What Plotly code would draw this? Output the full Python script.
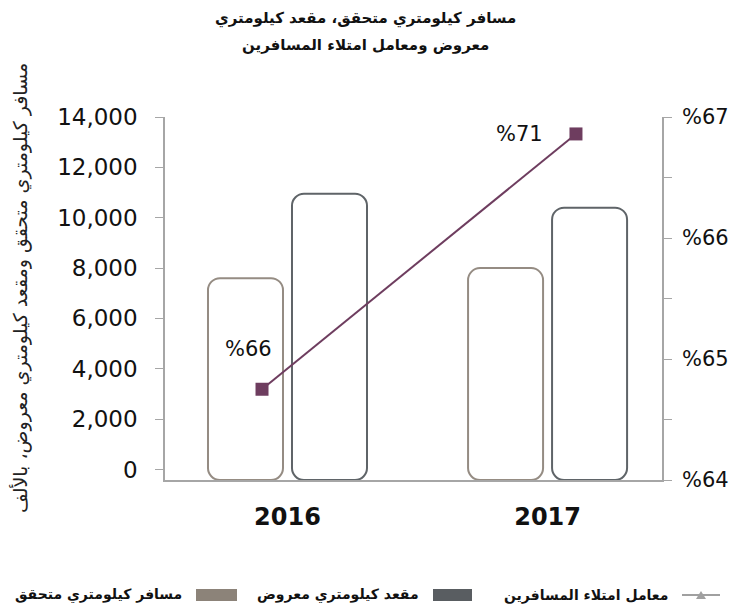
import plotly.graph_objects as go

# ---------------- data ----------------
years = ["2016", "2017"]
rpk_achieved = [7600, 8000]          # مسافر كيلومتري متحقق
ask_offered = [10950, 10400]         # مقعد كيلومتري معروض
load_factor = [64.75, 66.86]         # معامل امتلاء المسافرين (plotted position)
load_factor_labels = ["%66", "%71"]
left_ticks = [0, 2000, 4000, 6000, 8000, 10000, 12000, 14000]
left_ticktext = ["0", "2,000", "4,000", "6,000", "8,000", "10,000", "12,000", "14,000"]
right_ticks = [64, 65, 66, 67]
right_ticktext = ["%64", "%65", "%66", "%67"]

series_names = ["مسافر كيلومتري متحقق", "مقعد كيلومتري معروض", "معامل امتلاء المسافرين"]
title_lines = ["مسافر كيلومتري متحقق، مقعد كيلومتري", "معروض ومعامل امتلاء المسافرين"]
y_title = "مسافر كيلومتري متحقق ومقعد كيلومتري معروض، بالألف"

# ---------------- style ----------------
W, H = 731, 610
L, R, T, B = 165, 69, 117, 130
PW, PH = W - L - R, H - T - B
Y_MIN, Y_MAX = -417, 14000

C_RPK = "#958c83"
C_ASK = "#5f6468"
C_RPK_LEG = "#8c8379"
C_ASK_LEG = "#595d61"
C_LINE = "#6e3d5f"
C_AXIS = "#a6a6a6"
FONT = "DejaVu Sans"


def px(x):
    return (x - L) / PW


def py(y):
    return (H - B - y) / PH


fig = go.Figure()

fig.add_trace(go.Bar(
    x=years, y=[v - Y_MIN for v in rpk_achieved], base=Y_MIN,
    name=series_names[0], marker=dict(color="white", line=dict(color=C_RPK, width=2)),
    showlegend=False,
))
fig.add_trace(go.Bar(
    x=years, y=[v - Y_MIN for v in ask_offered], base=Y_MIN,
    name=series_names[1], marker=dict(color="white", line=dict(color=C_ASK, width=2)),
    showlegend=False,
))
fig.add_trace(go.Scatter(
    x=years, y=load_factor, xaxis="x2", yaxis="y2", mode="lines+markers",
    name=series_names[2], line=dict(color=C_LINE, width=2),
    marker=dict(symbol="square", size=13, color=C_LINE), showlegend=False,
))

annotations = []
shifts = [(-14, 40), (-56, 0)]
for i, (v, t) in enumerate(zip(load_factor, load_factor_labels)):
    annotations.append(dict(x=i, y=v, xref="x2", yref="y2", text=t, showarrow=False,
                            xshift=shifts[i][0], yshift=shifts[i][1],
                            xanchor="center", yanchor="middle",
                            font=dict(family=FONT, size=21, color="#111")))

# title
annotations.append(dict(x=px(365), y=py(18), xref="paper", yref="paper", text=title_lines[0],
                        showarrow=False, xanchor="center", yanchor="middle",
                        font=dict(family=FONT, size=15, color="#111", weight="bold")))
annotations.append(dict(x=px(365), y=py(45), xref="paper", yref="paper", text=title_lines[1],
                        showarrow=False, xanchor="center", yanchor="middle",
                        font=dict(family=FONT, size=15, color="#111", weight="bold")))
# y title
annotations.append(dict(x=px(20), y=py(288), xref="paper", yref="paper", text=y_title,
                        showarrow=False, textangle=-90, xanchor="center", yanchor="middle",
                        font=dict(family=FONT, size=19, color="#222")))

# manual RTL legend
shapes = []
LY = 595
shapes.append(dict(type="line", xref="paper", yref="paper", x0=px(682), x1=px(720),
                   y0=py(LY), y1=py(LY), line=dict(color="#a0a0a0", width=2)))
shapes.append(dict(type="path", xref="paper", yref="paper",
                   path=f"M {px(696)} {py(599)} L {px(706)} {py(599)} L {px(701)} {py(591)} Z",
                   fillcolor="#a0a0a0", line=dict(width=0)))
annotations.append(dict(x=px(670), y=py(LY), xref="paper", yref="paper", text=series_names[2],
                        showarrow=False, xanchor="right", yanchor="middle",
                        font=dict(family=FONT, size=14, color="#111", weight="bold")))
shapes.append(dict(type="rect", xref="paper", yref="paper", x0=px(433), x1=px(472),
                   y0=py(601), y1=py(589), fillcolor=C_ASK_LEG, line=dict(width=0)))
annotations.append(dict(x=px(421), y=py(LY), xref="paper", yref="paper", text=series_names[1],
                        showarrow=False, xanchor="right", yanchor="middle",
                        font=dict(family=FONT, size=14, color="#111", weight="bold")))
shapes.append(dict(type="rect", xref="paper", yref="paper", x0=px(196), x1=px(237),
                   y0=py(601), y1=py(589), fillcolor=C_RPK_LEG, line=dict(width=0)))
annotations.append(dict(x=px(184), y=py(LY), xref="paper", yref="paper", text=series_names[0],
                        showarrow=False, xanchor="right", yanchor="middle",
                        font=dict(family=FONT, size=14, color="#111", weight="bold")))

fig.update_layout(
    width=W, height=H, margin=dict(l=L, r=R, t=T, b=B, pad=0, autoexpand=False),
    paper_bgcolor="white", plot_bgcolor="white",
    barmode="group", bargap=0.354, bargroupgap=0.107, barcornerradius=12,
    xaxis=dict(type="category", range=[-0.471, 1.44], showline=True, linecolor=C_AXIS,
               linewidth=1.5, ticks="", showgrid=False, zeroline=False, automargin=False,
               tickfont=dict(family=FONT, size=24, color="#111", weight="bold"),
               ticklabelstandoff=14),
    xaxis2=dict(type="category", overlaying="x", range=[-0.309, 1.274], anchor="y2",
                showline=False, showticklabels=False, ticks="", showgrid=False,
                zeroline=False, automargin=False),
    yaxis=dict(range=[Y_MIN, Y_MAX], tickvals=left_ticks, ticktext=left_ticktext,
               showline=True, linecolor=C_AXIS, linewidth=1.5, ticks="outside",
               ticklen=8, tickcolor=C_AXIS, showgrid=False, zeroline=False, automargin=False,
               tickfont=dict(family=FONT, size=23, color="#111"), ticklabelstandoff=13),
    yaxis2=dict(range=[64, 67], overlaying="y", side="right", anchor="x",
                tickvals=right_ticks, ticktext=right_ticktext,
                showline=True, linecolor=C_AXIS, linewidth=1.5, ticks="outside",
                ticklen=8, tickcolor=C_AXIS, showgrid=False, zeroline=False, automargin=False,
                minor=dict(dtick=0.5, ticks="outside", ticklen=8, tickcolor=C_AXIS),
                tickfont=dict(family=FONT, size=21, color="#111"), ticklabelstandoff=6),
    annotations=annotations, shapes=shapes, showlegend=False,
)

fig.write_html("out.html", config={"displayModeBar": False},
               post_script="document.body.style.margin='0';document.body.style.overflow='hidden';")
